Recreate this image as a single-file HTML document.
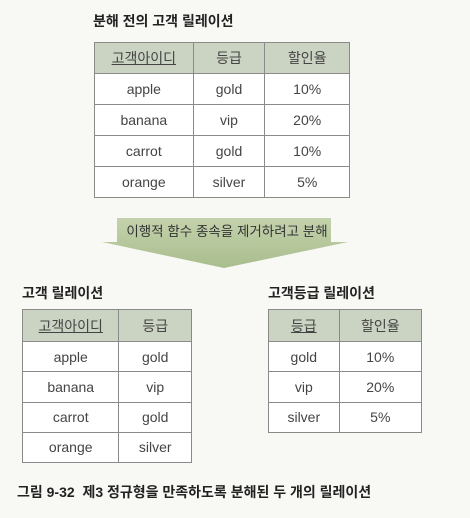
<!DOCTYPE html>
<html><head><meta charset="utf-8"><style>
body{margin:0;width:470px;height:518px;background:#f8f8f5;position:relative;overflow:hidden;font-family:"Liberation Sans","Noto Sans CJK KR",sans-serif;color:#333}
.t{position:absolute;font-weight:bold;font-size:14px;color:#222;line-height:1}
table{position:absolute;border-collapse:collapse;background:#fff;font-size:14px;color:#444}
td{border:1px solid #8a8a8a;text-align:center;padding:0}
tr.h td{background:#cbd3c2}
u{text-decoration:underline}
</style></head><body>
<div class="t" style="left:93px;top:14px">분해 전의 고객 릴레이션</div>
<table style="left:94px;top:42px;width:256px;height:156px">
<colgroup><col style="width:99px"><col style="width:72px"><col style="width:85px"></colgroup>
<tr class="h" style="height:31px"><td><u>고객아이디</u></td><td>등급</td><td>할인율</td></tr>
<tr><td>apple</td><td>gold</td><td>10%</td></tr>
<tr><td>banana</td><td>vip</td><td>20%</td></tr>
<tr><td>carrot</td><td>gold</td><td>10%</td></tr>
<tr><td>orange</td><td>silver</td><td>5%</td></tr>
</table>
<svg style="position:absolute;left:0;top:0" width="470" height="280">
<defs><linearGradient id="g" x1="0" y1="0" x2="0" y2="1"><stop offset="0" stop-color="#c4d2ad"/><stop offset="1" stop-color="#a9bd8c"/></linearGradient></defs>
<path d="M117 218 H331 V242 H348 L224 268 L102 242 H117 Z" fill="url(#g)"/>
<text x="227" y="236" text-anchor="middle" font-size="13.5" fill="#333" font-family="Liberation Sans, Noto Sans CJK KR, sans-serif">이행적 함수 종속을 제거하려고 분해</text>
</svg>
<div class="t" style="left:22px;top:286px">고객 릴레이션</div>
<table style="left:22px;top:309px;width:170px;height:154px">
<colgroup><col style="width:97px"><col style="width:73px"></colgroup>
<tr class="h" style="height:32px"><td><u>고객아이디</u></td><td>등급</td></tr>
<tr><td>apple</td><td>gold</td></tr>
<tr><td>banana</td><td>vip</td></tr>
<tr><td>carrot</td><td>gold</td></tr>
<tr><td>orange</td><td>silver</td></tr>
</table>
<div class="t" style="left:268px;top:286px">고객등급 릴레이션</div>
<table style="left:268px;top:309px;width:154px;height:124px">
<colgroup><col style="width:71px"><col style="width:83px"></colgroup>
<tr class="h" style="height:32px"><td><u>등급</u></td><td>할인율</td></tr>
<tr><td>gold</td><td>10%</td></tr>
<tr><td>vip</td><td>20%</td></tr>
<tr><td>silver</td><td>5%</td></tr>
</table>
<div class="t" style="left:17px;top:485px">그림 9-32 &nbsp;제3 정규형을 만족하도록 분해된 두 개의 릴레이션</div>
</body></html>
